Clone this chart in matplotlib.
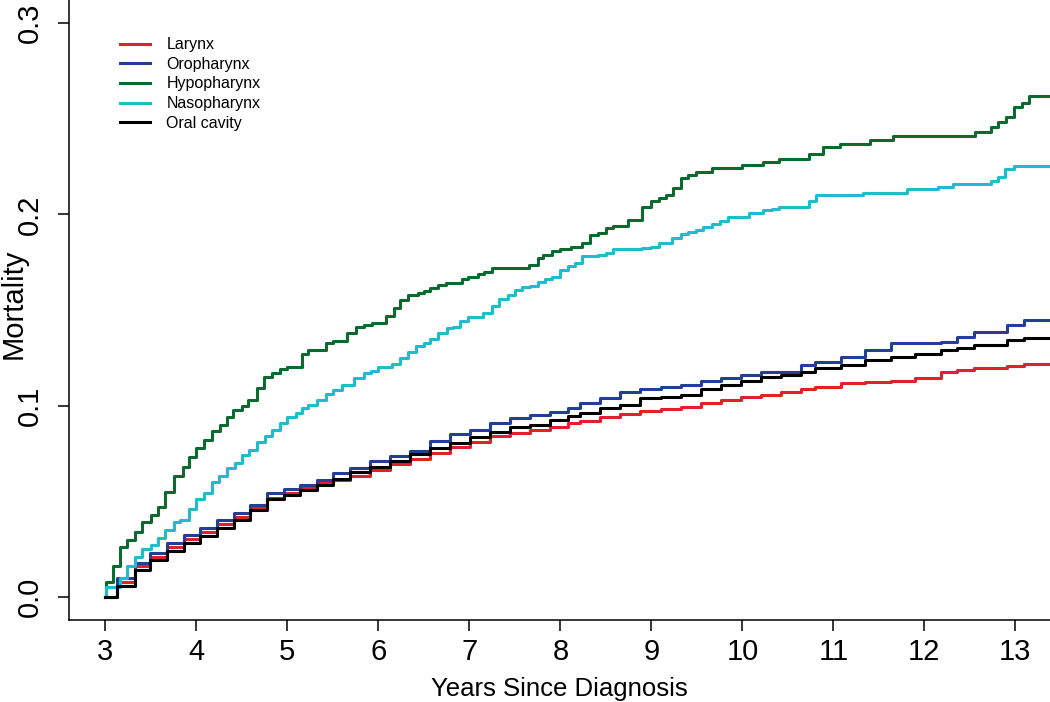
import matplotlib
matplotlib.use('Agg')
import matplotlib.pyplot as plt

plt.rcParams['font.family'] = ['Liberation Sans', 'DejaVu Sans']

# Hypopharynx (step times, cumulative mortality)
hypo_t = [3.0, 3.01, 3.08, 3.16, 3.24, 3.33, 3.4, 3.5, 3.58, 3.66,
          3.75, 3.85, 3.92, 4.0, 4.08, 4.17, 4.26, 4.34, 4.4, 4.5,
          4.57, 4.67, 4.74, 4.83, 4.92, 5.0, 5.16, 5.23, 5.42, 5.5,
          5.66, 5.75, 5.84, 5.93, 6.08, 6.17, 6.24, 6.33, 6.43, 6.5,
          6.57, 6.66, 6.74, 6.92, 6.99, 7.09, 7.16, 7.25, 7.65, 7.75,
          7.81, 7.91, 8.0, 8.12, 8.24, 8.32, 8.41, 8.5, 8.58, 8.74,
          8.9, 8.99, 9.08, 9.16, 9.24, 9.32, 9.4, 9.49, 9.67, 9.99,
          10.23, 10.4, 10.73, 10.89, 11.07, 11.4, 11.65, 12.56, 12.73, 12.81,
          12.9, 12.98, 13.07, 13.15, 13.4]
hypo_y = [0.0, 0.008, 0.016, 0.026, 0.030, 0.034, 0.039, 0.043, 0.047, 0.055,
          0.063, 0.068, 0.073, 0.078, 0.082, 0.087, 0.090, 0.094, 0.098, 0.100,
          0.103, 0.109, 0.115, 0.117, 0.119, 0.120, 0.127, 0.129, 0.133, 0.134,
          0.138, 0.141, 0.142, 0.143, 0.147, 0.151, 0.155, 0.158, 0.159, 0.160,
          0.1615, 0.163, 0.164, 0.166, 0.167, 0.169, 0.170, 0.172, 0.1735, 0.177,
          0.179, 0.181, 0.182, 0.183, 0.185, 0.189, 0.190, 0.193, 0.194, 0.197,
          0.204, 0.207, 0.2085, 0.210, 0.214, 0.219, 0.2205, 0.222, 0.224, 0.226,
          0.2275, 0.229, 0.2315, 0.235, 0.237, 0.239, 0.241, 0.243, 0.2457, 0.248,
          0.251, 0.256, 0.258, 0.262, 0.262]

# Nasopharynx
naso_t = [3.0, 3.01, 3.16, 3.24, 3.33, 3.4, 3.5, 3.58, 3.66, 3.75,
          3.82, 3.92, 4.0, 4.08, 4.17, 4.25, 4.34, 4.42, 4.5, 4.58,
          4.67, 4.75, 4.83, 4.92, 5.0, 5.09, 5.16, 5.23, 5.32, 5.42,
          5.5, 5.6, 5.73, 5.84, 5.92, 6.0, 6.15, 6.24, 6.33, 6.41,
          6.5, 6.57, 6.66, 6.75, 6.82, 6.9, 6.99, 7.15, 7.25, 7.32,
          7.42, 7.5, 7.58, 7.67, 7.75, 7.83, 7.91, 8.0, 8.08, 8.16,
          8.24, 8.41, 8.5, 8.58, 8.9, 8.99, 9.08, 9.23, 9.32, 9.4,
          9.49, 9.57, 9.67, 9.75, 9.84, 10.07, 10.23, 10.33, 10.4, 10.73,
          10.81, 11.32, 11.81, 12.15, 12.31, 12.73, 12.81, 12.89, 12.98, 13.4]
naso_y = [0.0, 0.005, 0.010, 0.016, 0.021, 0.025, 0.027, 0.031, 0.035, 0.039,
          0.0405, 0.046, 0.051, 0.0545, 0.060, 0.063, 0.0675, 0.070, 0.074, 0.077,
          0.081, 0.084, 0.0875, 0.091, 0.094, 0.096, 0.099, 0.1005, 0.103, 0.106,
          0.108, 0.111, 0.1145, 0.117, 0.118, 0.120, 0.122, 0.125, 0.128, 0.131,
          0.133, 0.135, 0.138, 0.1405, 0.141, 0.144, 0.1465, 0.1485, 0.152, 0.156,
          0.158, 0.1605, 0.162, 0.1625, 0.1645, 0.166, 0.1675, 0.171, 0.173, 0.1745,
          0.178, 0.179, 0.180, 0.182, 0.1825, 0.183, 0.185, 0.1875, 0.1895, 0.191,
          0.192, 0.1935, 0.195, 0.1965, 0.1985, 0.2005, 0.202, 0.203, 0.204, 0.207,
          0.210, 0.211, 0.213, 0.2145, 0.216, 0.2175, 0.2195, 0.2235, 0.2255, 0.2255]

# Larynx, Oropharynx, Oral cavity share one set of read-off times
low_t = [3.0, 3.13, 3.33, 3.49, 3.68, 3.86, 4.04, 4.23, 4.41, 4.59,
         4.78, 4.96, 5.14, 5.32, 5.5, 5.69, 5.91, 6.13, 6.35, 6.57,
         6.79, 7.01, 7.23, 7.45, 7.67, 7.89, 8.08, 8.22, 8.44, 8.66,
         8.88, 9.1, 9.32, 9.54, 9.76, 9.98, 10.2, 10.42, 10.64, 10.8,
         11.08, 11.35, 11.63, 11.9, 12.18, 12.36, 12.54, 12.91, 13.09, 13.4]
oro_y = [0.0, 0.010, 0.018, 0.023, 0.0285, 0.0326, 0.036, 0.0405, 0.044, 0.0483,
         0.0545, 0.0567, 0.0587, 0.0614, 0.065, 0.0676, 0.0713, 0.0739, 0.0765, 0.0817,
         0.085, 0.0875, 0.091, 0.0937, 0.0953, 0.0969, 0.099, 0.1016, 0.104, 0.1073,
         0.1088, 0.1099, 0.111, 0.113, 0.1146, 0.1162, 0.1175, 0.1178, 0.1214, 0.123,
         0.1256, 0.129, 0.133, 0.133, 0.1334, 0.136, 0.1386, 0.142, 0.1449, 0.1486]
oral_y = [0.0, 0.006, 0.014, 0.0196, 0.024, 0.0285, 0.032, 0.0363, 0.0405, 0.0457,
          0.051, 0.0535, 0.056, 0.0587, 0.0615, 0.0655, 0.068, 0.0713, 0.075, 0.078,
          0.0806, 0.0838, 0.0865, 0.089, 0.090, 0.0927, 0.0945, 0.0963, 0.099, 0.1005,
          0.104, 0.1047, 0.1057, 0.1088, 0.111, 0.113, 0.1152, 0.1162, 0.1178, 0.1198,
          0.1214, 0.124, 0.1256, 0.127, 0.129, 0.130, 0.1319, 0.1345, 0.1355, 0.1376]
lar_y = [0.0, 0.0076, 0.016, 0.021, 0.026, 0.0305, 0.034, 0.0384, 0.042, 0.0467,
         0.052, 0.0546, 0.057, 0.0598, 0.061, 0.0634, 0.0666, 0.0697, 0.0723, 0.0754,
         0.0786, 0.0812, 0.084, 0.0859, 0.0875, 0.089, 0.091, 0.0922, 0.0943, 0.0958,
         0.097, 0.0984, 0.0995, 0.1016, 0.1031, 0.1047, 0.1057, 0.1073, 0.1088, 0.1099,
         0.112, 0.1125, 0.113, 0.1146, 0.1178, 0.1188, 0.1198, 0.1209, 0.1219, 0.1235]

x_ticks = list(range(3, 14))
y_ticks = [0.0, 0.1, 0.2, 0.3]
y_ticklabels = ['0.0', '0.1', '0.2', '0.3']

series = [
    ('Larynx', low_t, lar_y, '#e0202a'),
    ('Oropharynx', low_t, oro_y, '#233f94'),
    ('Hypopharynx', hypo_t, hypo_y, '#0d6a2f'),
    ('Nasopharynx', naso_t, naso_y, '#1fbccc'),
    ('Oral cavity', low_t, oral_y, '#000000'),
]

fig = plt.figure(figsize=(10.5, 7.02), dpi=100)
ax = fig.add_axes([69 / 1050, 82 / 702, 981 / 1050, 620 / 702])

for name, t, y, col in series:
    ax.step(t, y, where='post', color=col, lw=2.2, label=name)

ax.set_xlim(2.6, 13.38)
ax.set_ylim(-0.012, 0.312)
ax.set_xticks(x_ticks)
ax.set_yticks(y_ticks)
ax.set_yticklabels(y_ticklabels, rotation=90, va='center')

ax.spines['top'].set_visible(False)
ax.spines['right'].set_visible(False)
for s in ['left', 'bottom']:
    ax.spines[s].set_linewidth(1.1)
ax.tick_params(axis='both', direction='out', length=8, width=1.1, labelsize=21)
ax.tick_params(axis='y', pad=10)
ax.tick_params(axis='x', pad=5)

ax.set_xlabel('Years Since Diagnosis', fontsize=18.5, va='center')
ax.set_ylabel('Mortality', fontsize=21, va='center')
ax.xaxis.set_label_coords(0.5, (620 - 689) / 620)
ax.yaxis.set_label_coords((14 - 69) / 981, (620 - 304) / 620)

ax.legend(loc='upper left', bbox_to_anchor=(0.052, 0.94), frameon=False,
          fontsize=11.5, handlelength=1.9, handletextpad=1.0, labelspacing=0.29,
          borderpad=0, borderaxespad=0)

fig.savefig('out.png', dpi=100)
